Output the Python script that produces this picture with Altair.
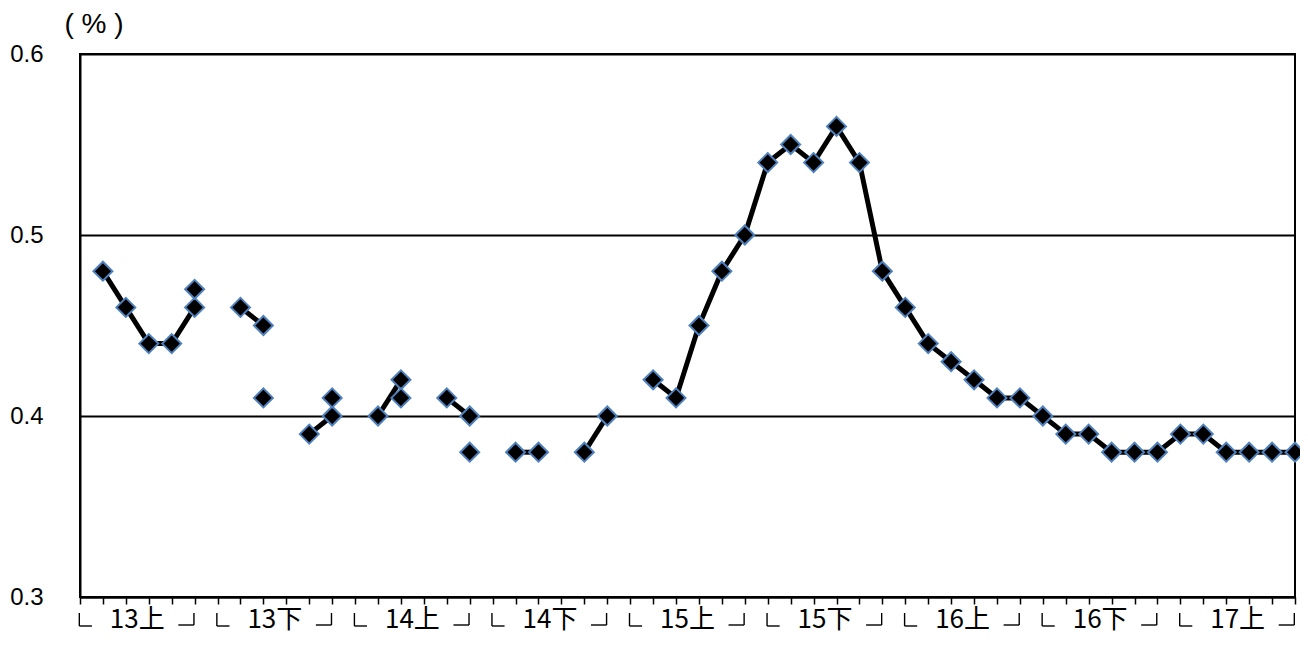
import altair as alt
import pandas as pd

# monthly series (positions 1..53); None = no value
main_values = [0.48, 0.46, 0.44, 0.44, 0.46, None,
               0.46, 0.45, None, 0.39, 0.40, None,
               0.40, 0.42, None, 0.41, 0.40, None,
               0.38, 0.38, None, 0.38, 0.40, None,
               0.42, 0.41, 0.45, 0.48, 0.50, 0.54,
               0.55, 0.54, 0.56, 0.54, 0.48, 0.46,
               0.44, 0.43, 0.42, 0.41, 0.41, 0.40,
               0.39, 0.39, 0.38, 0.38, 0.38, 0.39,
               0.39, 0.38, 0.38, 0.38, 0.38]
extra_positions = [5, 8, 11, 14, 17]
extra_values = [0.47, 0.41, 0.41, 0.41, 0.38]
group_labels = ["13上", "13下", "14上", "14下", "15上", "15下", "16上", "16下", "17上"]
n_slots = 53

rows = []
seg = 0
prev_none = True
for i, v in enumerate(main_values, start=1):
    if v is None:
        prev_none = True
        continue
    if prev_none:
        seg += 1
        prev_none = False
    rows.append({"pos": i, "val": v, "seg": seg})
main_df = pd.DataFrame(rows)
extra_df = pd.DataFrame({"pos": extra_positions, "val": extra_values})
pts_df = pd.concat([main_df[["pos", "val"]], extra_df], ignore_index=True)

groups = []
for g, lab in enumerate(group_labels):
    start = 6 * g
    r = min(start + 4.97, n_slots - 0.03)
    groups.append({"label": lab, "center": start + 2.5,
                   "l": start - 0.03, "l2": start + 0.52,
                   "r": r, "r1": r - 0.68})
grp_df = pd.DataFrame(groups)

xscale = alt.Scale(domain=[0, n_slots], nice=False, zero=False)
yscale = alt.Scale(domain=[0.3, 0.6], nice=False, zero=False)

x_axis = alt.Axis(values=list(range(0, n_slots + 1)), labels=False, grid=False,
                  domainColor="black", domainWidth=2, tickColor="black",
                  tickSize=7, tickWidth=1.5, title=None)
y_axis = alt.Axis(values=[0.3, 0.4, 0.5, 0.6], format=".1f", grid=True,
                  gridColor="black", gridWidth=1.8, gridOpacity=1,
                  domainColor="black", domainWidth=2, ticks=False,
                  labelPadding=37, labelFontSize=24, labelFont="Liberation Sans",
                  labelColor="black",
                  title="( % )", titleAngle=0, titleAlign="left", titleBaseline="top",
                  titleX=-16, titleY=-44, titleFont="Liberation Sans",
                  titleFontSize=28, titleFontWeight="normal", titleColor="black")

X = lambda f: alt.X(f, scale=xscale, axis=x_axis)
Y = lambda f: alt.Y(f, scale=yscale, axis=y_axis)

line = alt.Chart(main_df).mark_line(color="black", strokeWidth=5).encode(
    x=X("pos:Q"), y=Y("val:Q"), detail="seg:N",
)

points = alt.Chart(pts_df).mark_point(
    shape="diamond", filled=True, fill="black", stroke="#4f81bd",
    strokeWidth=2, size=360, opacity=1, fillOpacity=1
).encode(x=X("pos:Q"), y=Y("val:Q"))

y_top = 559
y_bot = 572
rule_w = 1.4
left_v = alt.Chart(grp_df).mark_rule(color="black", strokeWidth=rule_w).encode(
    x=X("l:Q"), y=alt.value(y_top), y2=alt.value(y_bot))
left_h = alt.Chart(grp_df).mark_rule(color="black", strokeWidth=rule_w).encode(
    x=X("l:Q"), x2="l2:Q", y=alt.value(y_bot))
right_v = alt.Chart(grp_df).mark_rule(color="black", strokeWidth=rule_w).encode(
    x=X("r:Q"), y=alt.value(y_top), y2=alt.value(y_bot - 1))
right_h = alt.Chart(grp_df).mark_rule(color="black", strokeWidth=rule_w).encode(
    x=X("r1:Q"), x2="r:Q", y=alt.value(y_bot - 1))

labels = alt.Chart(grp_df).mark_text(
    font="Noto Sans CJK JP", fontSize=26, baseline="middle", align="center", color="black"
).encode(
    x=X("center:Q"),
    y=alt.value(566),
    text="label:N",
)

chart = alt.layer(line, points, left_v, left_h, right_v, right_h, labels).properties(
    width=1215, height=543,
    autosize=alt.AutoSizeParams(type="none"),
    padding={"left": 72, "top": 46, "right": 5, "bottom": 38},
).configure(background="white").configure_view(stroke="black", strokeWidth=2)

chart.save("out.html", embed_options={"renderer": "svg", "actions": False})
